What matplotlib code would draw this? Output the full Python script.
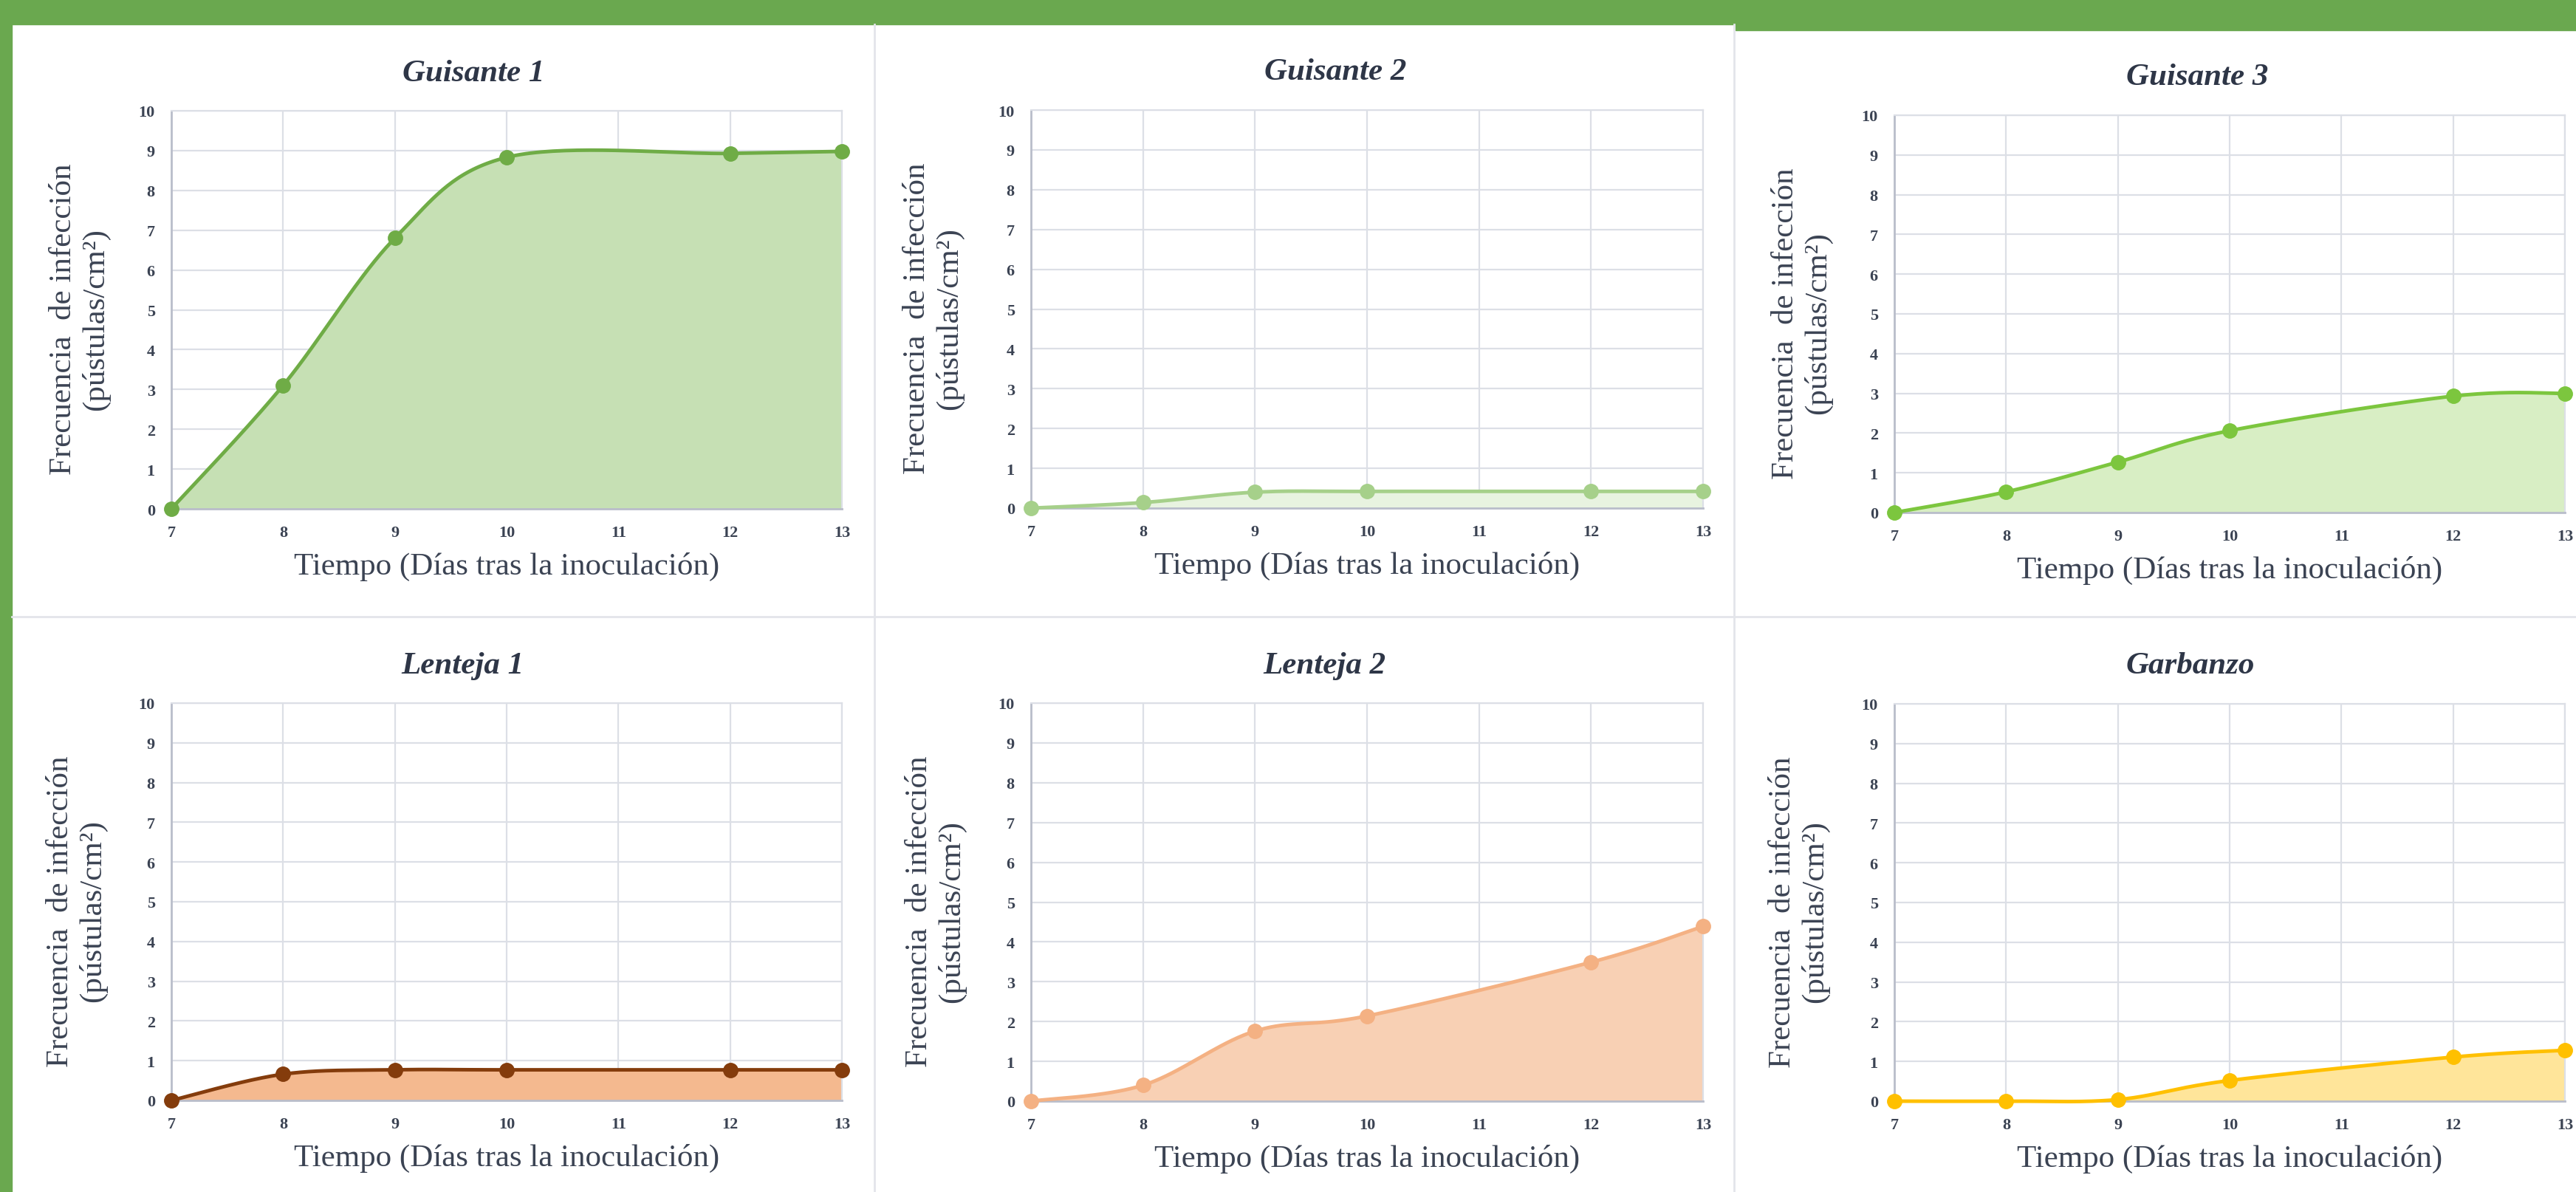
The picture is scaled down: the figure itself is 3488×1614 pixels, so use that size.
import numpy as np
import matplotlib
matplotlib.use("Agg")
import matplotlib.pyplot as plt
from matplotlib.patches import Rectangle
from matplotlib.lines import Line2D

W, H = 3488, 1615

days = [7, 8, 9, 10, 12, 13]
x_ticks = [7, 8, 9, 10, 11, 12, 13]
y_ticks = list(range(0, 11))

titles = ["Guisante 1", "Guisante 2", "Guisante 3", "Lenteja 1", "Lenteja 2", "Garbanzo"]
guisante1 = [0, 3.1, 6.8, 8.83, 8.93, 8.98]
guisante2 = [0, 0.14, 0.40, 0.42, 0.42, 0.42]
guisante3 = [0, 0.52, 1.27, 2.06, 2.93, 3.0]
lenteja1 = [0, 0.66, 0.77, 0.77, 0.77, 0.77]
lenteja2 = [0, 0.40, 1.76, 2.14, 3.49, 4.39]
garbanzo = [0, 0, 0.04, 0.52, 1.11, 1.28]
series = [guisante1, guisante2, guisante3, lenteja1, lenteja2, garbanzo]

line_colors = ["#6fac46", "#a6d08a", "#7cc63e", "#843c0c", "#f4b183", "#ffc000"]
fill_colors = ["#c6e0b4", "#e8f3e0", "#d8eec4", "#f4b98f", "#f8d0b4", "#ffe59a"]

# plot boxes in pixels: left, top, right, bottom
boxes = [(232, 151, 1140, 690), (1396, 150, 2306, 689), (2565, 157, 3473, 695),
         (232, 953, 1140, 1491), (1396, 953, 2306, 1492), (2565, 954, 3473, 1492)]
title_pos = [(641, 100), (1808, 98), (2975, 105), (626, 902), (1793, 902), (2966, 902)]
ylabel_x = [108, 1264, 2440, 104, 1267, 2436]

txt = "#3b4353"
serif = "Liberation Serif"


def smooth(xs, ys, n=40):
    # excel-like smoothed line (catmull-rom as bezier)
    pts = np.column_stack([xs, ys]).astype(float)
    P = np.vstack([pts[0], pts, pts[-1]])
    out = []
    t = np.linspace(0, 1, n)[:, None]
    for i in range(len(pts) - 1):
        p0, p1, p2, p3 = P[i], P[i + 1], P[i + 2], P[i + 3]
        c1 = p1 + (p2 - p0) / 6
        c2 = p2 - (p3 - p1) / 6
        seg = (1 - t) ** 3 * p1 + 3 * (1 - t) ** 2 * t * c1 + 3 * (1 - t) * t ** 2 * c2 + t ** 3 * p2
        out.append(seg if i == 0 else seg[1:])
    return np.vstack(out)


fig = plt.figure(figsize=(W / 100, H / 100), dpi=100)
fig.patch.set_facecolor("white")

# green frame and panel dividers
green = "#6aa84f"
fig.add_artist(Rectangle((0, 1 - 34 / H), 2350 / W, 34 / H, transform=fig.transFigure, color=green, zorder=0))
fig.add_artist(Rectangle((2350 / W, 1 - 42 / H), (W - 2350) / W, 42 / H, transform=fig.transFigure, color=green, zorder=0))
fig.add_artist(Rectangle((0, 0), 16 / W, 1, transform=fig.transFigure, color=green, zorder=0))
div = "#e3e5ea"
fig.add_artist(Line2D([16 / W, 1], [1 - 836 / H] * 2, transform=fig.transFigure, color=div, lw=2))
fig.add_artist(Line2D([1184 / W] * 2, [0, 1 - 34 / H], transform=fig.transFigure, color=div, lw=2))
fig.add_artist(Line2D([2348 / W] * 2, [0, 1 - 34 / H], transform=fig.transFigure, color=div, lw=2))

for i in range(6):
    l, t, r, b = boxes[i]
    ax = fig.add_axes([l / W, 1 - b / H, (r - l) / W, (b - t) / H])
    ax.set_axisbelow(True)
    curve = smooth(days, series[i])
    poly = np.vstack([curve, [[days[-1], 0], [days[0], 0]]])
    ax.fill(poly[:, 0], poly[:, 1], color=fill_colors[i], lw=0, zorder=2)
    ax.plot(curve[:, 0], curve[:, 1], color=line_colors[i], lw=3.5, zorder=3, clip_on=False,
            solid_capstyle="round")
    ax.plot(days, series[i], "o", color=line_colors[i], ms=14, zorder=4, clip_on=False)
    ax.set_xlim(7, 13)
    ax.set_ylim(0, 10)
    ax.set_xticks(x_ticks)
    ax.set_yticks(y_ticks)
    ax.grid(True, color="#dcdfe6", lw=1.6)
    ax.tick_params(length=0, pad=16, labelsize=16, colors=txt)
    for lab in ax.get_xticklabels() + ax.get_yticklabels():
        lab.set_fontfamily(serif)
        lab.set_fontweight("bold")
    for s in ["top", "right"]:
        ax.spines[s].set_color("#dcdfe6")
        ax.spines[s].set_linewidth(1.6)
    for s in ["left", "bottom"]:
        ax.spines[s].set_color("#b9bdca")
        ax.spines[s].set_linewidth(2)

    tx, ty = title_pos[i]
    fig.text(tx / W, 1 - ty / H, titles[i], ha="center", va="center", fontsize=31,
             fontfamily=serif, fontweight="bold", fontstyle="italic", color="#2e3647")
    fig.text((l + r) / 2 / W, 1 - (b + 77) / H, "Tiempo (Días tras la inoculación)",
             ha="center", va="center", fontsize=31, fontfamily=serif, color=txt)
    fig.text(ylabel_x[i] / W, 1 - ((t + b) / 2 + 12) / H,
             "Frecuencia  de infección\n(pústulas/cm²)", rotation=90, ha="center",
             va="center", fontsize=31, fontfamily=serif, color=txt, linespacing=1.15,
             multialignment="center")

fig.savefig("out.png", dpi=100)
